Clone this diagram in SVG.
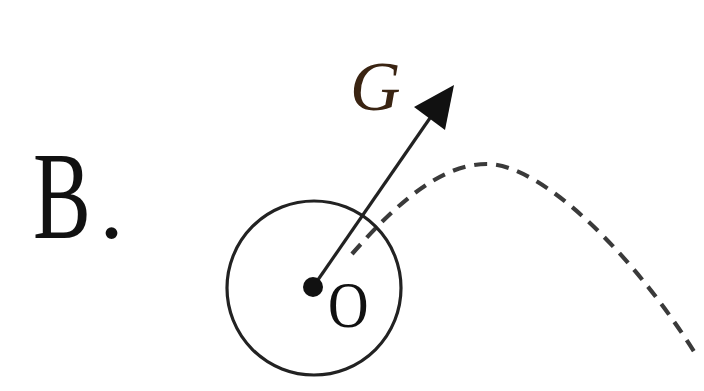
<svg xmlns="http://www.w3.org/2000/svg" width="704" height="391" viewBox="0 0 704 391">
<style>
.t{font-family:"Liberation Serif","Times New Roman",serif;fill:#111}
.s{fill:none;stroke:#222;stroke-width:3.2}
</style>
<rect width="704" height="391" fill="#fff"/>
<g transform="translate(33,238) scale(0.7,1)">
<text class="t" x="0" y="0" font-size="124">B</text>
</g>
<text class="t" x="99" y="238" font-size="100">.</text>
<g id="connectors">
<path id="trajectory" d="M352,254 C395,205 440,164 487,164 C540,164 630,250 695,353" fill="none" stroke="#3a3a3a" stroke-width="4.2" stroke-dasharray="13,9"/>
<line x1="313" y1="287" x2="430" y2="118" class="s"/>
<polygon points="454,85 414,107 445,130" fill="#111"/>
</g>
<g id="ball">
<circle cx="314" cy="288" r="87" class="s"/>
<circle cx="313" cy="287" r="10" fill="#111"/>
<text class="t" transform="translate(328,327) scale(0.85,1)" x="0" y="0" font-size="66">O</text>
</g>
<g id="label-G">
<text x="350" y="110" font-size="70" font-style="italic" font-family="Liberation Serif,'Times New Roman',serif" fill="#3a2412">G</text>
</g>
</svg>
